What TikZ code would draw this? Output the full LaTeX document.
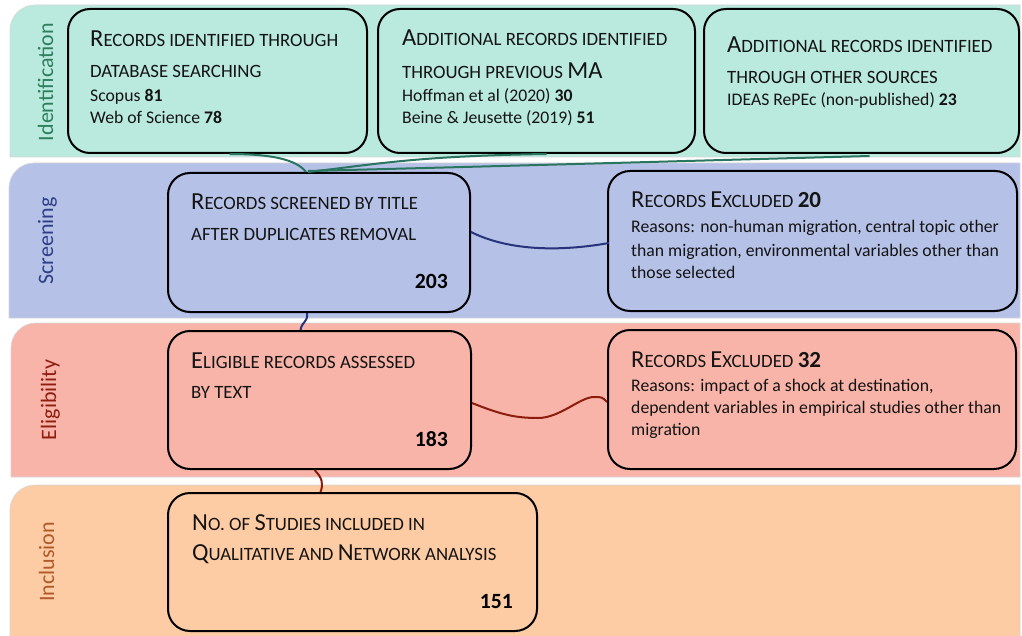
\documentclass[tikz,border=0pt]{standalone}
\usepackage{fontspec}
\setmainfont{Carlito}
\usetikzlibrary{calc}

% phase band fills
\definecolor{idband}{HTML}{BAE9DD}
\definecolor{scband}{HTML}{B5C1E7}
\definecolor{elband}{HTML}{F8B4A9}
\definecolor{inband}{HTML}{FDCBA4}
% phase titles
\definecolor{idtext}{HTML}{2E7F5E}
\definecolor{sctext}{HTML}{2E3F86}
\definecolor{eltext}{HTML}{8E1E12}
\definecolor{intext}{HTML}{B0592A}
% connectors
\definecolor{idline}{HTML}{2A7560}
\definecolor{scline}{HTML}{27337A}
\definecolor{elline}{HTML}{8C1C0C}

% hand-made small capitals for the box headings
\newcommand\hdBig[1]{{\fontsize{24.5}{28}\selectfont #1}}
\newcommand\hdSm[1]{{\fontsize{18.8}{22}\selectfont\MakeUppercase{#1}}}
\newcommand\hdNum[1]{{\fontsize{23}{28}\selectfont\bfseries #1}}

\tikzset{
  band/.style={draw=black!16, line width=0.6pt},
  box/.style={draw=black, line width=2pt, rounded corners=22pt, inner sep=0pt},
  head/.style={anchor=base west, inner sep=0pt, text=black!92, font=\fontsize{18.8}{22}\selectfont},
  body/.style={anchor=base west, inner sep=0pt, text=black!92, font=\fontsize{17.7}{22}\selectfont},
  count/.style={anchor=base east, inner sep=0pt, font=\fontsize{21.7}{26}\selectfont\bfseries},
  phase/.style={rotate=90, anchor=base, inner sep=0pt, font=\fontsize{22}{26}\selectfont},
  link/.style={line width=2pt},
}

\begin{document}
\begin{tikzpicture}[x=1pt,y=-1pt]
\useasboundingbox (0,0) rectangle (1022,636);

% ---- phase bands ----
\path[band, fill=idband] (10,157) -- (10,30) arc[start angle=180,end angle=270,radius=25] -- (1020,5) -- (1020,157) -- cycle;
\path[band, fill=scband] (9,318) -- (9,188) arc[start angle=180,end angle=270,radius=25] -- (1020,163) -- (1020,318) -- cycle;
\path[band, fill=elband] (11,477) -- (11,348) arc[start angle=180,end angle=270,radius=25] -- (1020,323) -- (1020,477) -- cycle;
\path[band, fill=inband] (10,637) -- (10,510) arc[start angle=180,end angle=270,radius=25] -- (1020,485) -- (1020,637) -- cycle;

\node[phase, text=idtext] (pid) at (53,82) {Identification};
\node[phase, text=sctext] (psc) at (53,241) {Screening};
\node[phase, text=eltext] (pel) at (56,400) {Eligibility};
\node[phase, text=intext] (pin) at (54,562) {Inclusion};

% ---- boxes ----
\node[box, fill=idband, minimum width=299, minimum height=144] (b1) at (217.5,81) {};
\node[box, fill=idband, minimum width=317, minimum height=144] (b2) at (536.5,81) {};
\node[box, fill=idband, minimum width=315, minimum height=144] (b3) at (861.5,81) {};
\node[box, fill=scband, minimum width=302, minimum height=139] (s1) at (319,242.5) {};
\node[box, fill=scband, minimum width=409, minimum height=140] (s2) at (812.5,241) {};
\node[box, fill=elband, minimum width=303, minimum height=138] (e1) at (319.5,400) {};
\node[box, fill=elband, minimum width=408, minimum height=139] (e2) at (812,399.5) {};
\node[box, fill=inband, minimum width=369, minimum height=138] (i1) at (352.5,562) {};

% ---- box texts ----
\node[head] (b1a) at (90,47) {\hdBig{R}\hdSm{ecords identified through}};
\node[head] (b1b) at (90,77.5) {\hdSm{database searching}};
\node[body] (b1c) at (90,102) {Scopus \textbf{81}};
\node[body] (b1d) at (90,124) {Web of Science \textbf{78}};

\node[head] (b2a) at (402,46) {\hdBig{A}\hdSm{dditional records identified}};
\node[head] (b2b) at (402,78.5) {\hdSm{through previous }\hdBig{MA}};
\node[body] (b2c) at (402,101.5) {Hoffman et al (2020) \textbf{30}};
\node[body] (b2d) at (402,123.5) {Beine \& Jeusette (2019) \textbf{51}};

\node[head] (b3a) at (727,52.5) {\hdBig{A}\hdSm{dditional records identified}};
\node[head] (b3b) at (727,83.5) {\hdSm{through other sources}};
\node[body] (b3c) at (727,106) {IDEAS RePEc (non-published) \textbf{23}};

\node[head] (s1a) at (191,210) {\hdBig{R}\hdSm{ecords screened by title}};
\node[head] (s1b) at (191,241) {\hdSm{after duplicates removal}};
\node[count] (s1n) at (448,288) {203};

\node[head] (s2a) at (631,208) {\hdBig{R}\hdSm{ecords }\hdBig{E}\hdSm{xcluded }\hdNum{20}};
\node[body] (s2b) at (631,233) {Reasons: non-human migration, central topic other};
\node[body] (s2c) at (631,256.5) {than migration, environmental variables other than};
\node[body] (s2d) at (631,278.5) {those selected};

\node[head] (e1a) at (191,368.5) {\hdBig{E}\hdSm{ligible records assessed}};
\node[head] (e1b) at (191,398.5) {\hdSm{by text}};
\node[count] (e1n) at (448,446) {183};

\node[head] (e2a) at (631,367) {\hdBig{R}\hdSm{ecords }\hdBig{E}\hdSm{xcluded }\hdNum{32}};
\node[body] (e2b) at (631,391.5) {Reasons: impact of a shock at destination,};
\node[body] (e2c) at (631,413.5) {dependent variables in empirical studies other than};
\node[body] (e2d) at (631,435.5) {migration};

\node[head] (i1a) at (192,530) {\hdBig{N}\hdSm{o. of }\hdBig{S}\hdSm{tudies included in}};
\node[head] (i1b) at (192,560) {\hdBig{Q}\hdSm{ualitative and }\hdBig{N}\hdSm{etwork analysis}};
\node[count] (i1n) at (513,608) {151};

% ---- connectors ----
\draw[link, idline] ($(b1.south)+(12,0)$) .. controls +(40,0) and +(-10,-13) .. ($(s1.north)+(-13,0)$);
\draw[link, idline] ($(b2.south)+(10,0)$) .. controls +(-130,2) and +(70,-8) .. ($(s1.north)+(-11,0)$);
\draw[link, idline] ($(b3.south)+(8,2)$) .. controls +(-220,6) and +(160,-4) .. ($(s1.north)+(-11,-1)$);

\draw[link, scline] ($(s1.east)+(0,-10.5)$) .. controls +(40,20) and +(-45,8) .. ($(s2.west)+(2,2)$);
\draw[link, scline] ($(s1.south)+(-12,0)$) .. controls +(1,10) and +(2,-10) .. ($(e1.north)+(-19,0)$);

\draw[link, elline] ($(e1.east)+(0,3)$) .. controls +(30,12) and +(-22,0) .. ++(66,15)
  .. controls +(22,0) and +(-14,0) .. ++(56,-21) .. controls +(8,0) .. ($(e2.west)+(0,2.5)$);
\draw[link, elline] ($(e1.south)+(-5,0)$) .. controls +(8,8) and +(3,-8) .. ($(i1.north)+(-32,0)$);
\end{tikzpicture}
\end{document}
